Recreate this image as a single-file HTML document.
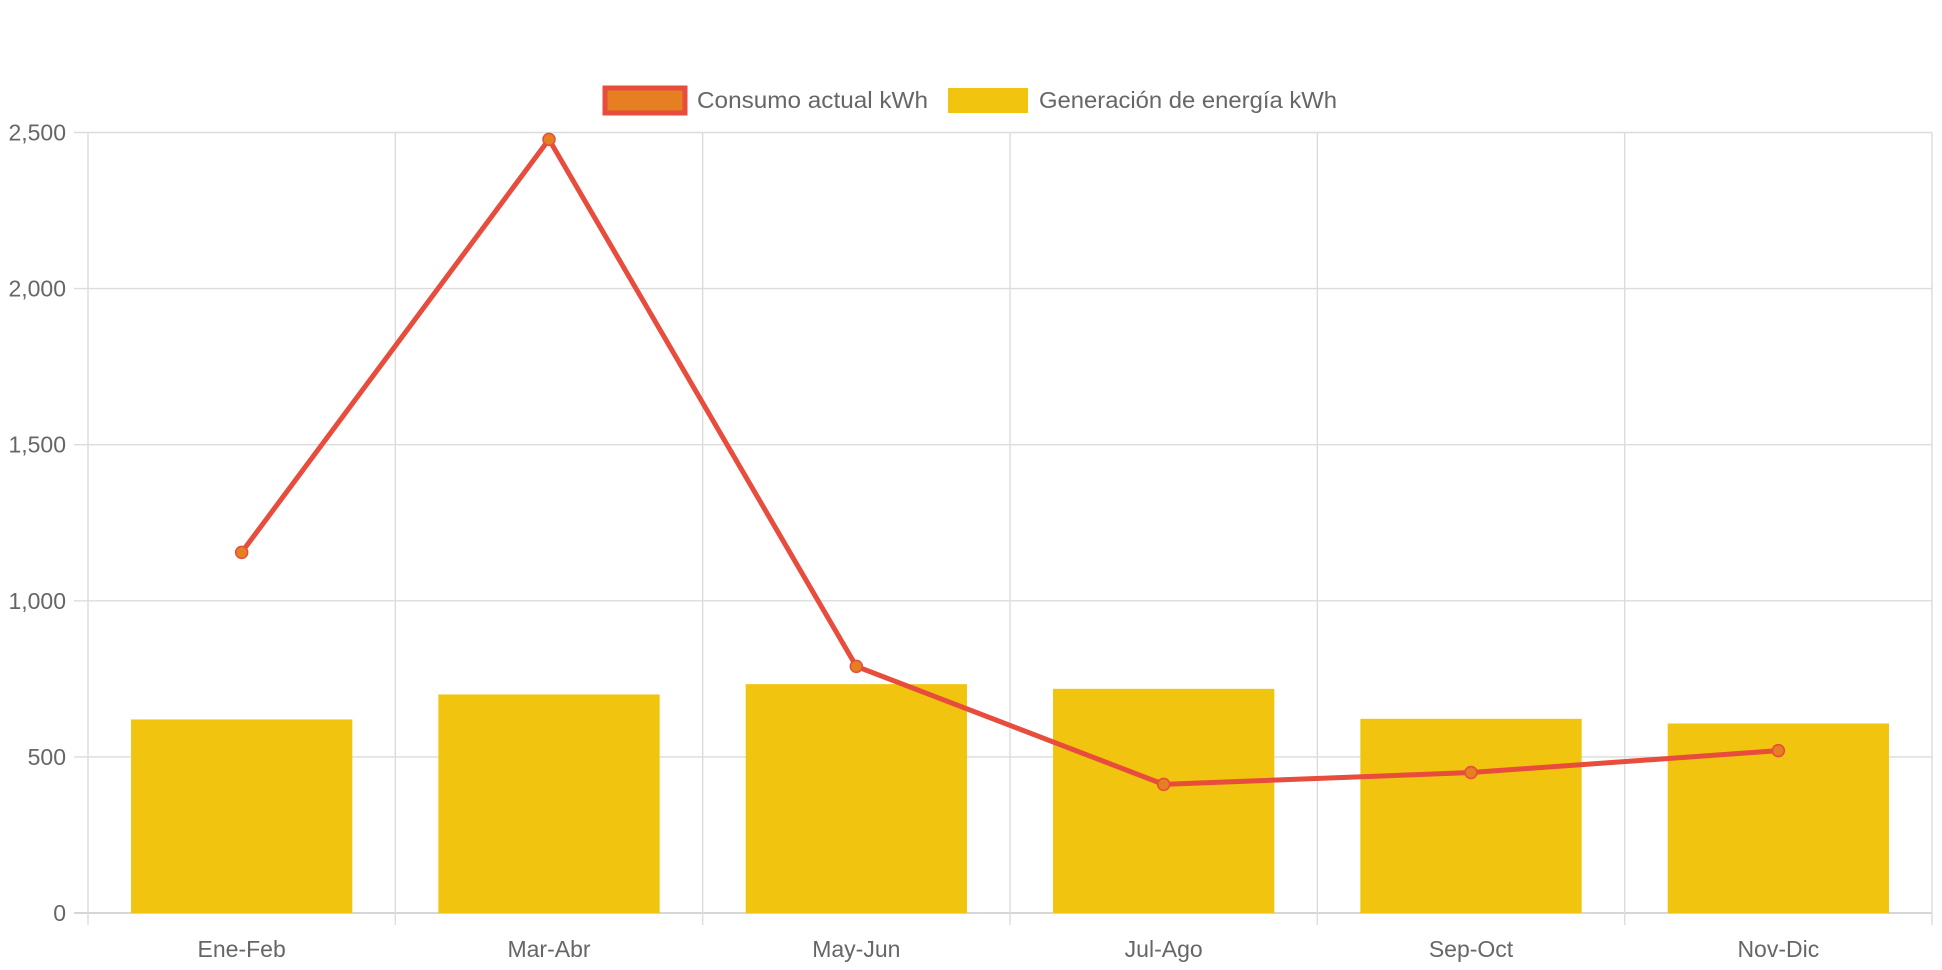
<!DOCTYPE html>
<html><head><meta charset="utf-8"><style>
html,body{margin:0;padding:0;background:#fff;}
svg{display:block;font-family:"Liberation Sans",Helvetica,Arial,sans-serif;}
</style></head><body>
<svg id="chart" width="1942" height="970" viewBox="0 0 1942 970" xmlns="http://www.w3.org/2000/svg">
<g id="legend">
  <g>
    <rect x="605" y="88" width="80" height="25" fill="#e67e22" stroke="#e74c3c" stroke-width="5"/>
    <text x="697" y="108" font-size="23" fill="#666" textLength="231" lengthAdjust="spacingAndGlyphs">Consumo actual kWh</text>
  </g>
  <g>
    <rect x="948" y="88" width="80" height="25" fill="#f1c40f"/>
    <text x="1039" y="108" font-size="23" fill="#666" textLength="298" lengthAdjust="spacingAndGlyphs">Generación de energía kWh</text>
  </g>
</g>
<g id="grid"></g>
<g id="bars"></g>
<g id="line"></g>
<g id="axes"></g>
</svg>
<script>
const categories = ["Ene-Feb","Mar-Abr","May-Jun","Jul-Ago","Sep-Oct","Nov-Dic"];
const consumo = [1155, 2478, 790, 412, 450, 520];
const generacion = [620, 700, 733, 718, 622, 607];
const yTicks = [0, 500, 1000, 1500, 2000, 2500];
const yTickLabels = ["0","500","1,000","1,500","2,000","2,500"];

const NS = "http://www.w3.org/2000/svg";
const L = 88, R = 1932, T = 132.5, B = 913, YMAX = 2500;
const cw = (R - L) / categories.length;
function y(v){ return B - (v / YMAX) * (B - T); }
function xc(i){ return L + cw * (i + 0.5); }
function mk(tag, attrs, parent){
  const e = document.createElementNS(NS, tag);
  for (const k in attrs) e.setAttribute(k, attrs[k]);
  parent.appendChild(e); return e;
}
const grid = document.getElementById('grid');
const axes = document.getElementById('axes');
yTicks.forEach((t, i) => {
  const ln = mk('line', {x1: L - 14, x2: R, y1: y(t), y2: y(t), stroke: t === 0 ? '#c8c8c8' : '#dcdcdc', 'stroke-width': 1.4}, grid);
  
  
  const tx = mk('text', {x: 66, y: y(t) + 8, 'text-anchor': 'end', 'font-size': 23, fill: '#666'}, axes);
  tx.textContent = yTickLabels[i];
  
  
});
for (let i = 0; i <= categories.length; i++) {
  const x = L + cw * i;
  const ln = mk('line', {x1: x, x2: x, y1: T, y2: B + 12, stroke: '#dcdcdc', 'stroke-width': 1.4}, grid);
  
  
}
categories.forEach((c, i) => {
  const tx = mk('text', {x: xc(i), y: 957, 'text-anchor': 'middle', 'font-size': 23, fill: '#666'}, axes);
  tx.textContent = c;
  
  
});
const bars = document.getElementById('bars');
const bw = cw * 0.72;
generacion.forEach((v, i) => {
  const r = mk('rect', {x: xc(i) - bw / 2, y: y(v), width: bw, height: B - y(v), fill: '#f1c40f'}, bars);
  
  
});
const lg = document.getElementById('line');
const pts = consumo.map((v, i) => xc(i) + ',' + y(v)).join(' ');
const pl = mk('polyline', {points: pts, fill: 'none', stroke: '#e74c3c', 'stroke-width': 5, 'stroke-linejoin': 'round'}, lg);


consumo.forEach((v, i) => {
  const c = mk('circle', {cx: xc(i), cy: y(v), r: 6, fill: '#e67e22', stroke: '#e74c3c', 'stroke-width': 1.5}, lg);
  
  
});
</script>
</body></html>
